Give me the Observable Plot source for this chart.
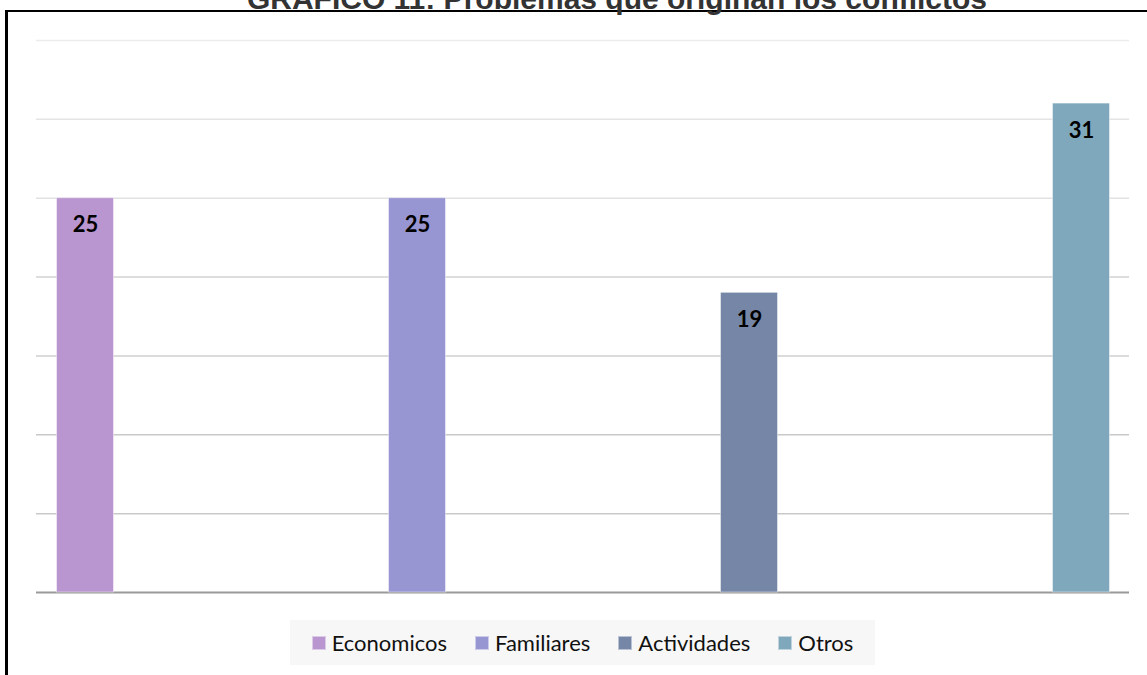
<!DOCTYPE html>
<html>
<head>
<meta charset="utf-8">
<script src="https://cdn.jsdelivr.net/npm/d3@7"></script>
<script src="https://cdn.jsdelivr.net/npm/@observablehq/plot@0.6"></script>
<style>
  html, body { margin: 0; padding: 0; background: #fff; overflow: hidden; }
  #wrap { position: relative; width: 1147px; height: 675px; overflow: hidden; background: #fff; }
  #frame { position: absolute; left: 5px; top: 10px; width: 2000px; height: 2000px;
           border-left: 3px solid #000; border-top: 2px solid #000; box-sizing: border-box; }
  #title { position: absolute; left: 0; width: 1234px; top: -16px; text-align: center;
           font: bold 30px "Liberation Sans", Arial, sans-serif; line-height: 30px; color: #333; white-space: nowrap; }
  #chart { position: absolute; left: 0; top: 0; }
  #legend { position: absolute; left: 290px; top: 620px; width: 585px; height: 45px; background: #f7f7f7;
            display: flex; align-items: center; justify-content: center; gap: 28px;
            font: 22px Lato, "Open Sans", sans-serif; color: #111; }
  .item { display: flex; align-items: center; gap: 6px; }
  .sw { width: 14px; height: 14px; box-sizing: border-box; border: 1px solid rgba(255,255,255,0.5); }
</style>
</head>
<body>
<div id="wrap">
  <div id="frame"></div>
  <div id="title"></div>
  <div id="chart"></div>
  <div id="legend"></div>
</div>
<script>
const titleText = "GRÁFICO 11: Problemas que originan los conflictos";
const categories = ["Economicos", "Familiares", "Actividades", "Otros"];
const values = [25, 25, 19, 31];
const colors = ["#b996cf", "#9896d2", "#7586a6", "#80a8bd"];
const gridTicks = [5, 10, 15, 20, 25, 30, 35];
const gridColors = ["#c9c9c9", "#c9c9c9", "#cfcfcf", "#d2d2d2", "#e2e2e2", "#e4e4e4", "#ececec"];

const data = categories.map((c, i) => ({category: c, value: values[i], color: colors[i]}));
const grid = gridTicks.map((t, i) => ({t, color: gridColors[i]}));

document.getElementById("title").textContent = titleText;

const chart = Plot.plot({
  width: 1147,
  height: 610,
  marginTop: 40,
  marginBottom: 18,
  marginLeft: 36,
  marginRight: 18,
  style: {background: "transparent", overflow: "visible"},
  x: {domain: categories, paddingInner: 0.8255, paddingOuter: 0.0572, axis: null},
  y: {domain: [0, 35], axis: null},
  marks: [
    Plot.ruleY(grid, {y: "t", stroke: "color", strokeWidth: 1.5}),
    Plot.ruleY([0], {stroke: "#9a9a9a", strokeWidth: 2}),
    Plot.barY(data, {x: "category", y: "value", fill: "color", stroke: "#ffffff", strokeOpacity: 0.45, strokeWidth: 1, insetLeft: 0.5, insetRight: 0.5}),
    Plot.text(data, {x: "category", y: "value", text: d => String(d.value), dy: 27,
      fontSize: 22, fontWeight: "bold", fontFamily: "Lato, 'Open Sans', sans-serif", fill: "#000"})
  ]
});
document.getElementById("chart").appendChild(chart);

const legend = document.getElementById("legend");
categories.forEach((c, i) => {
  const item = document.createElement("div");
  item.className = "item";
  const sw = document.createElement("span");
  sw.className = "sw";
  sw.style.background = colors[i];
  const label = document.createElement("span");
  label.textContent = c;
  item.appendChild(sw);
  item.appendChild(label);
  legend.appendChild(item);
});
</script>
</body>
</html>
